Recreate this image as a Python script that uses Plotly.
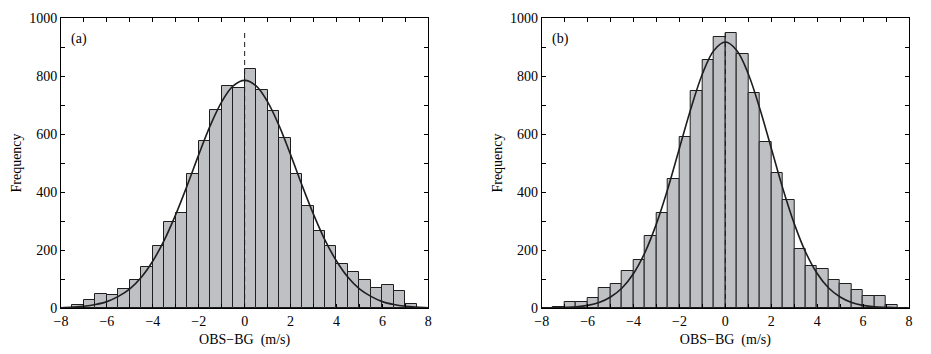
import numpy as np
import plotly.graph_objects as go

# ---------------- data ----------------
BIN_WIDTH = 0.5
BIN_LEFT = [-8.0 + 0.5 * i for i in range(32)]          # bin left edges, -8 .. 7.5

COUNTS_A = [0, 9, 29, 50, 46, 65, 96, 141, 213, 295, 326, 462,
            577, 683, 766, 760, 823, 753, 681, 587, 463, 352, 264, 215,
            151, 123, 98, 69, 78, 58, 14, 0]
COUNTS_B = [0, 5, 21, 22, 34, 69, 83, 126, 165, 248, 329, 446,
            588, 750, 854, 933, 950, 876, 743, 571, 464, 374, 203, 144,
            134, 96, 83, 62, 42, 42, 10, 0]

CURVE_X = [-8.0 + 0.5 * i for i in range(33)]
CURVE_A = [1, 3, 6, 12, 22, 40, 66, 106, 162, 234, 323, 423, 529, 629, 711, 766,
           785, 766, 711, 629, 529, 423, 323, 234, 162, 106, 66, 40, 22, 12, 6, 3, 1]
CURVE_B = [0, 1, 2, 4, 9, 19, 38, 69, 119, 192, 291, 413, 551, 688, 807, 888,
           917, 888, 807, 688, 551, 413, 291, 192, 119, 69, 38, 19, 9, 4, 2, 1, 0]

MEAN_LINE_X = [0, 0]
MEAN_LINE_Y = [0, 950]

PANEL_LABELS = ["(a)", "(b)"]
X_TITLE = "OBS−BG\u00a0\u00a0(m/s)"
Y_TITLE = "Frequency"

# ---------------- styling ----------------
FONT = "Liberation Serif"
BAR_FILL = "#bfc0c4"
EDGE = "#1e1e1e"

bin_centers = [e + BIN_WIDTH / 2 for e in BIN_LEFT]

fig = go.Figure()

panels = [("x", "y", COUNTS_A, CURVE_A), ("x2", "y2", COUNTS_B, CURVE_B)]
for xa, ya, counts, curve in panels:
    fig.add_trace(go.Bar(
        x=bin_centers, y=counts, width=BIN_WIDTH,
        marker=dict(color=BAR_FILL, line=dict(color=EDGE, width=1)),
        xaxis=xa, yaxis=ya, showlegend=False, hoverinfo="x+y"))
    fig.add_trace(go.Scatter(
        x=CURVE_X, y=curve, mode="lines", line=dict(color=EDGE, width=1.6, shape="spline"),
        xaxis=xa, yaxis=ya, showlegend=False))
    fig.add_trace(go.Scatter(
        x=MEAN_LINE_X, y=MEAN_LINE_Y, mode="lines",
        line=dict(color=EDGE, width=1, dash="5px,4px"),
        xaxis=xa, yaxis=ya, showlegend=False))

# the page body adds an 8px offset, so the figure is drawn 8px smaller
OFF = 8
W, H = 931 - OFF, 354 - OFF
ml, mr, mt, mb = 61 - OFF, 22, 18 - OFF, 46
pw = W - ml - mr
dom_a = [0, (428.3 - OFF - ml) / pw]
dom_b = [(541.7 - OFF - ml) / pw, 1]

tickfont = dict(family=FONT, size=14, color="black")
titlefont = dict(family=FONT, size=14, color="black")

def xaxis(domain, anchor):
    return dict(domain=domain, anchor=anchor, range=[-8, 8], tick0=-8, dtick=2,
                ticks="inside", ticklen=4, tickcolor="black", tickwidth=1,
                minor=dict(dtick=1, tick0=-8, ticks="inside", ticklen=4, tickcolor="black", tickwidth=1),
                showline=True, linecolor="black", linewidth=1, mirror="allticks",
                showgrid=False, zeroline=False, tickfont=tickfont, automargin=False,
                title=dict(text=X_TITLE, font=titlefont, standoff=6))

def yaxis(anchor):
    return dict(domain=[0, 1], anchor=anchor, range=[0, 1000], tick0=0, dtick=200,
                ticks="inside", ticklen=4, tickcolor="black", tickwidth=1,
                minor=dict(dtick=100, tick0=0, ticks="inside", ticklen=4, tickcolor="black", tickwidth=1),
                showline=True, linecolor="black", linewidth=1, mirror="allticks",
                showgrid=False, zeroline=False, tickfont=tickfont, automargin=False,
                title=dict(text=Y_TITLE, font=titlefont, standoff=4))

annotations = []
for lbl, xr, yr in [(PANEL_LABELS[0], "x", "y"), (PANEL_LABELS[1], "x2", "y2")]:
    annotations.append(dict(text=lbl, x=-7.65, y=928, xref=xr, yref=yr,
                            xanchor="left", yanchor="middle", showarrow=False,
                            font=dict(family=FONT, size=14, color="black")))

fig.update_layout(
    width=W, height=H,
    margin=dict(l=ml, r=mr, t=mt, b=mb),
    paper_bgcolor="white", plot_bgcolor="white",
    xaxis=xaxis(dom_a, "y"), yaxis=yaxis("x"),
    xaxis2=xaxis(dom_b, "y2"), yaxis2=yaxis("x2"),
    bargap=0, annotations=annotations,
    font=dict(family=FONT, color="black"),
)

fig.write_html("out.html")
